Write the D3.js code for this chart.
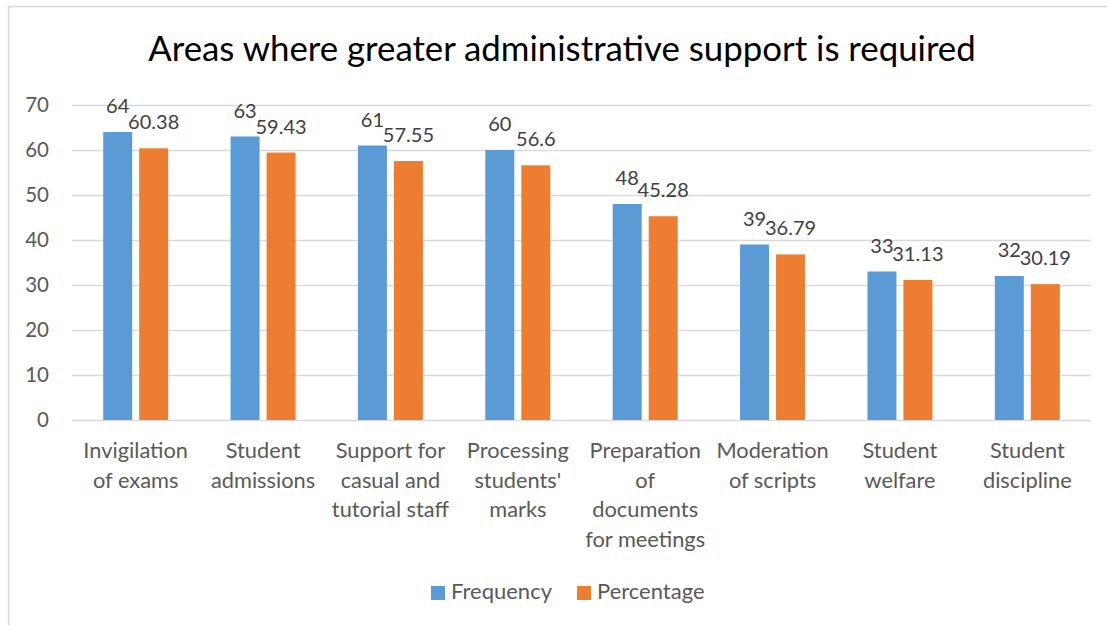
<!DOCTYPE html>
<html>
<head>
<meta charset="utf-8">
<script src="https://cdn.jsdelivr.net/npm/d3@7"></script>
<style>
  html, body { margin: 0; padding: 0; background: #fff; }
  svg { display: block; }
  text { font-family: Lato, "Open Sans", sans-serif; }
</style>
</head>
<body>
<svg id="chart" width="1107" height="625"></svg>
<script>
const title = "Areas where greater administrative support is required";
const categories = [
  "Invigilation\nof exams",
  "Student\nadmissions",
  "Support for\ncasual and\ntutorial staff",
  "Processing\nstudents'\nmarks",
  "Preparation\nof\ndocuments\nfor meetings",
  "Moderation\nof scripts",
  "Student\nwelfare",
  "Student\ndiscipline"
];
const seriesNames = ["Frequency", "Percentage"];
const frequency = [64, 63, 61, 60, 48, 39, 33, 32];
const percentage = [60.38, 59.43, 57.55, 56.6, 45.28, 36.79, 31.13, 30.19];
const yTicks = [0, 10, 20, 30, 40, 50, 60, 70];
const colors = ["#5B9BD5", "#ED7D31"];

const svg = d3.select("#chart");
const W = 1107, H = 625;
const plotLeft = 72, plotRight = 1091, plotTop = 105, plotBottom = 420;

// chart border
svg.append("rect")
  .attr("x", 8.5).attr("y", 6.5)
  .attr("width", W + 20).attr("height", H + 20)
  .attr("fill", "#fff").attr("stroke", "#D9D9D9").attr("stroke-width", 1.5);

const x = d3.scaleBand().domain(categories).range([plotLeft, plotRight]).padding(0);
const xs = d3.scaleBand().domain(seriesNames).range([0, x.bandwidth()])
  .paddingInner(7 / 36).paddingOuter(0.867);
const y = d3.scaleLinear().domain([0, 70]).range([plotBottom, plotTop]);

// y axis with gridlines
const yAxis = svg.append("g")
  .attr("transform", `translate(${plotLeft},0)`)
  .call(d3.axisLeft(y).tickValues(yTicks).tickSize(-(plotRight - plotLeft)).tickPadding(23));
yAxis.select(".domain").remove();
yAxis.selectAll(".tick line").attr("stroke", "#D9D9D9").attr("stroke-width", 1.3);
yAxis.selectAll(".tick text")
  .attr("fill", "#595959").attr("font-size", 20.5).attr("font-family", "Lato, sans-serif");

const series = [frequency, percentage];

// bars
series.forEach((vals, si) => {
  svg.append("g").selectAll("rect")
    .data(vals)
    .join("rect")
    .attr("x", (d, i) => x(categories[i]) + xs(seriesNames[si]))
    .attr("y", d => y(d))
    .attr("width", xs.bandwidth())
    .attr("height", d => y(0) - y(d))
    .attr("fill", colors[si]);
});

// data labels
series.forEach((vals, si) => {
  svg.append("g").selectAll("text")
    .data(vals)
    .join("text")
    .attr("x", (d, i) => x(categories[i]) + xs(seriesNames[si]) + xs.bandwidth() / 2)
    .attr("y", d => y(d) - 19)
    .attr("text-anchor", "middle")
    .attr("font-size", 20)
    .attr("fill", "#404040")
    .text(d => d);
});

// category labels
const catG = svg.append("g");
categories.forEach(c => {
  const t = catG.append("text")
    .attr("text-anchor", "middle")
    .attr("font-size", 21.8)
    .attr("fill", "#595959");
  c.split("\n").forEach((line, li) => {
    t.append("tspan")
      .attr("x", x(c) + x.bandwidth() / 2)
      .attr("y", 458 + li * 29.5)
      .text(line);
  });
});

// title
svg.append("text")
  .attr("x", 562).attr("y", 61)
  .attr("text-anchor", "middle")
  .attr("font-size", 34.8)
  .attr("fill", "#000")
  .text(title);

// legend
const legendX = [431, 577];
const lg = svg.append("g");
seriesNames.forEach((s, i) => {
  lg.append("rect")
    .attr("x", legendX[i]).attr("y", 586)
    .attr("width", 14).attr("height", 14)
    .attr("fill", colors[i]);
  lg.append("text")
    .attr("x", legendX[i] + 20).attr("y", 599)
    .attr("font-size", 22)
    .attr("fill", "#595959")
    .text(s);
});
</script>
</body>
</html>
